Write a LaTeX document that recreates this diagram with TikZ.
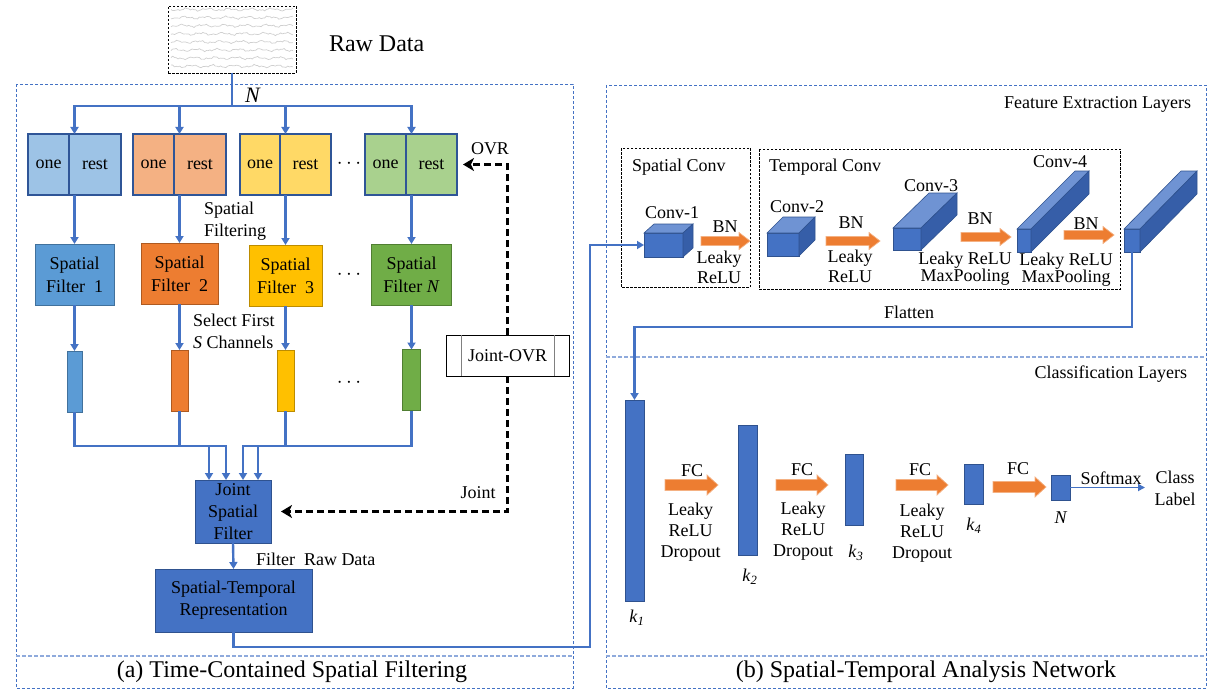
\documentclass[tikz,border=0pt]{standalone}
\usepackage{fontspec}
\setmainfont{Liberation Serif}
\usetikzlibrary{arrows.meta,calc}
\definecolor{mb}{HTML}{4472C4}
\definecolor{mbd}{HTML}{2F528F}
\definecolor{mbl}{HTML}{8FAADC}
\definecolor{obd}{HTML}{2F5597}
\definecolor{c1l}{HTML}{9DC3E6}\definecolor{c1}{HTML}{5B9BD5}\definecolor{c1d}{HTML}{41719C}
\definecolor{c2l}{HTML}{F4B183}\definecolor{c2}{HTML}{ED7D31}\definecolor{c2d}{HTML}{AE5A21}
\definecolor{c3l}{HTML}{FFD966}\definecolor{c3}{HTML}{FFC000}\definecolor{c3d}{HTML}{BC8C00}
\definecolor{c4l}{HTML}{A9D18E}\definecolor{c4}{HTML}{70AD47}\definecolor{c4d}{HTML}{507E32}
\definecolor{ctop}{HTML}{6F93D3}
\definecolor{cside}{HTML}{365EA8}
\definecolor{eegc}{HTML}{CFCFCF}
\newcommand{\fsN}{\fontsize{18}{22}\selectfont}
\newcommand{\fsL}{\fontsize{24}{28}\selectfont}
\newcommand{\cubefaces}[3]{%
  \filldraw[cubetop] (#1.north west) -- ++(#2,-#3) -- ($(#1.north east)+(#2,-#3)$) -- (#1.north east) -- cycle;
  \filldraw[cubeside] (#1.north east) -- ++(#2,-#3) -- ($(#1.south east)+(#2,-#3)$) -- (#1.south east) -- cycle;}
% block arrow: x1, x2, y, shaft half-width, head half-width, head length
\newcommand{\blockarrow}[6]{%
  \filldraw[oarrow] ({#1},{#3-#4}) -- ({#2-#6},{#3-#4}) -- ({#2-#6},{#3-#5}) -- ({#2},{#3})
    -- ({#2-#6},{#3+#5}) -- ({#2-#6},{#3+#4}) -- ({#1},{#3+#4}) -- cycle;}
\tikzset{
  bl/.style={draw=mb, line width=2.4pt},
  bla/.style={bl, -{Triangle[length=7pt,width=8pt]}},
  dsh/.style={draw=black, line width=2.6pt, dash pattern=on 7pt off 4pt, -{Stealth[length=11pt,width=13pt,inset=3pt]}},
  panel/.style={draw=mb, line width=0.9pt, dash pattern=on 3pt off 2pt},
  panelL/.style={draw=mbl, line width=1.2pt, dash pattern=on 4pt off 2pt},
  blackdash/.style={draw=black, line width=0.9pt, dash pattern=on 2.5pt off 1.5pt},
  ob/.style={draw=obd, line width=1.2pt, minimum height=61, align=center},
  sfbox/.style={line width=1pt, minimum height=61, align=center, font=\fontsize{18}{23}\selectfont},
  bar/.style={line width=1pt, minimum height=61},
  jbox/.style={draw=mbd, fill=mb, line width=1pt, align=center},
  cubefront/.style={draw=mbd, fill=mb, line width=0.6pt, minimum height=23},
  cubetop/.style={draw=mbd, fill=ctop, line width=0.6pt},
  cubeside/.style={draw=mbd, fill=cside, line width=0.6pt},
  oarrow/.style={fill=c2, draw=c2l, line width=0.7pt, line join=miter},
  fcbar/.style={draw=mbd, fill=mb, line width=0.8pt, minimum width=19},
  eeg/.style={draw=eegc, line width=0.7pt},
}
\begin{document}
\begin{tikzpicture}[x=1pt,y=-1pt, every node/.style={inner sep=0pt, outer sep=0pt, font=\fsN}]
\useasboundingbox (0,0) rectangle (1223,698);

% ---------------- panels
\draw[panel] (16,84) rectangle (573,688);
\draw[panelL] (16,656) -- (573,656);
\draw[panel] (606,85) rectangle (1206,688);
\draw[panelL] (606,357) -- (1206,357);
\draw[panelL] (606,656) -- (1206,656);
\node[font=\fsL] (capa) at (292,672) {(a) Time-Contained Spatial Filtering};
\node[font=\fsL] (capb) at (926,672) {(b) Spatial-Temporal Analysis Network};

% ---------------- raw data
\node[blackdash, minimum width=128, minimum height=67] (raw) at (232,39.5) {};
\foreach \i in {0,...,7}{
  \draw[eeg] plot[domain=0:122, samples=70, smooth]
    ({\x+171}, {9.5+8.1*\i + 0.9*sin(17*\x+40*\i) + 0.6*sin(43*\x+91*\i) + 0.4*sin(97*\x+17*\i)});
}
\node[font=\fsL, anchor=west] (rawlbl) at (329,44) {Raw Data};

% ---------------- one / rest boxes
\node[ob, fill=c1l, minimum width=41] (one1) at (48.5,164.5) {one};
\node[ob, fill=c1l, minimum width=52, anchor=west] (rest1) at (one1.east) {rest};
\node[ob, fill=c2l, minimum width=41] (one2) at (153.5,164.5) {one};
\node[ob, fill=c2l, minimum width=52, anchor=west] (rest2) at (one2.east) {rest};
\node[ob, fill=c3l, minimum width=40] (one3) at (260,164.5) {one};
\node[ob, fill=c3l, minimum width=51, anchor=west] (rest3) at (one3.east) {rest};
\node[ob, fill=c4l, minimum width=41] (one4) at (385.5,164.5) {one};
\node[ob, fill=c4l, minimum width=51, anchor=west] (rest4) at (one4.east) {rest};
\node[font=\fontsize{20}{22}\selectfont] (dots1) at (349,164) {$\cdots$};

\foreach \k in {1,2,3,4}{
  \draw[bla] (raw.south) -- ++(0,33) -| ([xshift=5.5]rest\k.north west);
}
\node[font=\fontsize{22}{24}\selectfont] (nlbl) at (253,95) {\textit{N}};

% ---------------- spatial filters
\node[sfbox, fill=c1, draw=c1d, minimum width=79] (sf1) at (74.5,274.5) {Spatial\\Filter~ 1};
\node[sfbox, fill=c2, draw=c2d, minimum width=77] (sf2) at (179.5,273.5) {Spatial\\Filter~ 2};
\node[sfbox, fill=c3, draw=c3d, minimum width=73] (sf3) at (285.5,275.5) {Spatial\\Filter~ 3};
\node[sfbox, fill=c4, draw=c4d, minimum width=80] (sf4) at (411.5,274.5) {Spatial\\Filter \textit{N}};
\node[font=\fontsize{20}{22}\selectfont] (dots2) at (349,275) {$\cdots$};
\foreach \k in {1,2,3,4}{
  \draw[bla] ([xshift=5.5]rest\k.south west) -- (sf\k.north);
}
\node[anchor=west, align=left] (sflt) at (204,221) {Spatial\\Filtering};

% ---------------- bars
\node[bar, fill=c1, draw=c1d, minimum width=15] (b1) at (74.5,381.5) {};
\node[bar, fill=c2, draw=c2d, minimum width=17] (b2) at (179.5,380.5) {};
\node[bar, fill=c3, draw=c3d, minimum width=17] (b3) at (285.5,380.5) {};
\node[bar, fill=c4, draw=c4d, minimum width=18] (b4) at (411.5,380) {};
\node[font=\fontsize{20}{22}\selectfont] (dots3) at (349,383) {$\cdots$};
\foreach \k in {1,2,3,4}{
  \draw[bla] (sf\k.south) -- (b\k.north);
}
\node[anchor=west, align=left] (selfirst) at (193,331.5) {Select First\\\textit{S} Channels};

% ---------------- joint spatial filter
\node[jbox, minimum width=76, minimum height=63] (joint) at (233,511.5) {Joint\\Spatial\\Filter};
\coordinate (busy) at (0,446);
\coordinate (j1) at ($(joint.north)+(-24,0)$);
\coordinate (j2) at ($(joint.north)+(-7,0)$);
\coordinate (j3) at ($(joint.north)+(10,0)$);
\coordinate (j4) at ($(joint.north)+(25,0)$);
\draw[bla] (b1.south) |- (j1 |- busy) -- (j1);
\draw[bla] (b2.south) |- (j2 |- busy) -- (j2);
\draw[bla] (b3.south) |- (j4 |- busy) -- (j4);
\draw[bla] (b4.south) |- (j3 |- busy) -- (j3);

% ---------------- joint-OVR
\node[draw=black, line width=0.8pt, fill=white, minimum width=123, minimum height=41] (jovr) at (507.5,355.5) {Joint-OVR};
\draw[draw=gray, line width=1pt] ([xshift=15]jovr.north west) -- ([xshift=15]jovr.south west);
\draw[draw=gray, line width=1pt] ([xshift=-15]jovr.north east) -- ([xshift=-15]jovr.south east);
\draw[dsh] (jovr.north) |- ([xshift=6]rest4.east);
\draw[dsh] (jovr.south) |- ([xshift=10]joint.east);
\node (ovr) at (490,149) {OVR};
\node (jlbl) at (478,493) {Joint};

% ---------------- spatial-temporal representation
\node[jbox, minimum width=157, minimum height=63] (st) at (233.5,600.5) {Spatial-Temporal\\Representation};
\draw[bla] (joint.south) -- (st.north);
\node[anchor=west] (frd) at (256,559) {Filter~ Raw Data};

% ---------------- feature extraction
\node[anchor=east] (fel) at (1191,104) {Feature Extraction Layers};
\draw[blackdash] (621,148) rectangle (750,287);
\draw[blackdash] (759,149) rectangle (1120,289);
\node[anchor=west] (scl) at (632,167) {Spatial Conv};
\node[anchor=west] (tcl) at (769,167) {Temporal Conv};

\node[cubefront, minimum width=39, minimum height=24] (c1) at (663.5,245) {};
\cubefaces{c1}{10}{9}
\node[cubefront, minimum width=32] (c2) at (783,244.5) {};
\cubefaces{c2}{16}{16}
\node[cubefront, minimum width=28, minimum height=22] (c3) at (907,239) {};
\cubefaces{c3}{36}{35}
\node[cubefront, minimum width=14] (c4) at (1024,240.5) {};
\cubefaces{c4}{58}{58}
\node[cubefront, minimum width=16] (c5) at (1132,240.5) {};
\cubefaces{c5}{57}{58}

\node (cv1) at (672,213) {Conv-1};
\node (cv2) at (797,207) {Conv-2};
\node (cv3) at (931,186) {Conv-3};
\node (cv4) at (1060,162) {Conv-4};

\blockarrow{701}{750}{241}{4.5}{8.5}{11}
\blockarrow{826}{880}{241}{4.5}{8.5}{11}
\blockarrow{961}{1011}{237}{4.5}{8.5}{11}
\blockarrow{1064}{1114}{235}{4.5}{8.5}{11}
\node (bn1) at (725,227) {BN};
\node (bn2) at (851,223) {BN};
\node (bn3) at (980,219) {BN};
\node (bn4) at (1086,224) {BN};
\node[align=center, font=\fontsize{18}{20}\selectfont] (lr1) at (719,267) {Leaky\\ReLU};
\node[align=center, font=\fontsize{18}{20}\selectfont] (lr2) at (850,266.5) {Leaky\\ReLU};
\node[align=center, font=\fontsize{18}{16}\selectfont] (lr3) at (965,269) {Leaky ReLU\\MaxPooling};
\node[align=center, font=\fontsize{18}{16}\selectfont] (lr4) at (1066,269.5) {Leaky ReLU\\MaxPooling};

% input from representation
\coordinate (stturn) at (590,647);
\draw[bla] (st.south) |- (stturn) |- (c1.west);

% ---------------- classification
\node[anchor=east] (cll) at (1187,374) {Classification Layers};
\node[fcbar, minimum height=201] (k1) at (634.5,500.5) {};
\node[fcbar, minimum height=130] (k2) at (747.5,490) {};
\node[fcbar, minimum width=18, minimum height=71] (k3) at (854,489.5) {};
\node[fcbar, minimum height=40] (k4) at (973.5,484) {};
\node[fcbar, minimum height=25] (nb) at (1060.5,487.5) {};

\coordinate (flt) at (0,327);
\draw[bla] (c5.south) |- (k1.north |- flt) -- (k1.north);
\node (flat) at (909,312) {Flatten};

\blockarrow{665}{718}{485}{5.5}{10}{11}
\blockarrow{776}{828}{485}{5.5}{10}{11}
\blockarrow{896}{948}{485}{5.5}{10}{11}
\blockarrow{993}{1046}{487}{5.5}{10}{11}
\node (fc1) at (692,471) {FC};
\node (fc2) at (802,470) {FC};
\node (fc3) at (920,470) {FC};
\node (fc4) at (1018,469) {FC};
\node[align=center, font=\fontsize{18}{21}\selectfont] (d1) at (690.5,532) {Leaky\\ReLU\\Dropout};
\node[align=center, font=\fontsize{18}{21}\selectfont] (d2) at (803,531) {Leaky\\ReLU\\Dropout};
\node[align=center, font=\fontsize{18}{21}\selectfont] (d3) at (922,533) {Leaky\\ReLU\\Dropout};

\node (kl1) at (637,618) {\textit{k}\textsubscript{\textit{1}}};
\node (kl2) at (750,577) {\textit{k}\textsubscript{\textit{2}}};
\node (kl3) at (856,553) {\textit{k}\textsubscript{\textit{3}}};
\node (kl4) at (974,526) {\textit{k}\textsubscript{\textit{4}}};
\node (nl) at (1061,518) {\textit{N}};

\coordinate (sm) at (1145,487.5);
\draw[draw=mb, line width=1.8pt, -{Triangle[length=7pt,width=7pt]}] (nb.east) -- (sm);
\node (smx) at (1111,478) {Softmax};
\node[align=center] (cls) at (1175,488) {Class\\Label};
\end{tikzpicture}
\end{document}
